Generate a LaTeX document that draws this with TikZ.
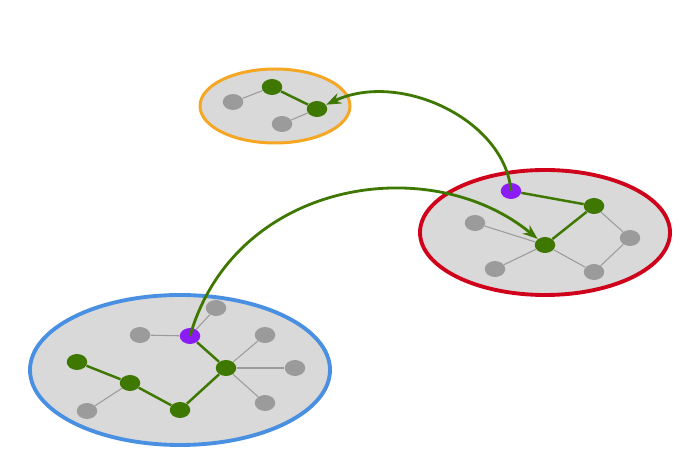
\documentclass[tikz,border=0pt]{standalone}
\usepackage{xcolor}
\definecolor{colGreen}{HTML}{3F7800}
\definecolor{colGray}{HTML}{9B9B9B}
\definecolor{colPurple}{HTML}{8B1CF5}
\definecolor{colOrange}{HTML}{F5A623}
\definecolor{colRed}{HTML}{D0021B}
\definecolor{colBlue}{HTML}{4A90E2}
\definecolor{colFill}{HTML}{D9D9D9}
\usepackage{tikz}
\usetikzlibrary{arrows.meta, shapes.geometric}
\tikzset{
    cluster/.style={
        draw=#1, fill=colFill, line width=2.2pt
    },
    vtx/.style={
        ellipse, fill=#1, inner sep=0pt,
        minimum width=0.41cm, minimum height=0.32cm
    },
    vtx/.default=colGray,
    grayedge/.style={colGray, line width=0.6pt},
    greenedge/.style={colGreen, line width=1.4pt},
    jump/.style={-{Stealth[length=3mm, width=2.2mm]}, colGreen, line width=1.6pt},
}

\begin{document}
\begin{tikzpicture}
    \useasboundingbox (0,0) rectangle (14,9.5);
    % clusters
    \draw[cluster=colOrange, line width=1.7pt] (5.5,7.38) ellipse [x radius=1.5cm, y radius=0.74cm];
    \draw[cluster=colRed] (10.9,4.85) ellipse [x radius=2.5cm, y radius=1.25cm];
    \draw[cluster=colBlue] (3.6,2.1) ellipse [x radius=3cm, y radius=1.5cm];

    % top graph
    \node[vtx] (o1) at (4.66,7.46) {};
    \node[vtx=colGreen] (o2) at (5.44,7.76) {};
    \node[vtx=colGreen] (o3) at (6.34,7.32) {};
    \node[vtx] (o4) at (5.64,7.02) {};
    \draw[grayedge] (o1) -- (o2);
    \draw[greenedge] (o2) -- (o3);
    \draw[grayedge] (o3) -- (o4);

    % right graph
    \node[vtx=colPurple] (r1) at (10.22,5.68) {};
    \node[vtx=colGreen] (r2) at (11.88,5.38) {};
    \node[vtx] (r3) at (9.5,5.04) {};
    \node[vtx=colGreen] (r4) at (10.9,4.6) {};
    \node[vtx] (r5) at (12.6,4.74) {};
    \node[vtx] (r6) at (9.9,4.12) {};
    \node[vtx] (r7) at (11.88,4.06) {};
    \draw[greenedge] (r1) -- (r2);
    \draw[greenedge] (r2) -- (r4);
    \draw[grayedge] (r2) -- (r5);
    \draw[grayedge] (r3) -- (r4);
    \draw[grayedge] (r4) -- (r6);
    \draw[grayedge] (r4) -- (r7);
    \draw[grayedge] (r5) -- (r7);

    % bottom graph
    \node[vtx] (b1) at (4.32,3.34) {};
    \node[vtx] (b2) at (2.8,2.8) {};
    \node[vtx=colPurple] (b3) at (3.8,2.78) {};
    \node[vtx] (b4) at (5.3,2.8) {};
    \node[vtx=colGreen] (b5) at (1.54,2.26) {};
    \node[vtx=colGreen] (b6) at (2.6,1.84) {};
    \node[vtx=colGreen] (b7) at (4.52,2.14) {};
    \node[vtx] (b8) at (5.9,2.14) {};
    \node[vtx] (b9) at (1.74,1.28) {};
    \node[vtx=colGreen] (b10) at (3.6,1.3) {};
    \node[vtx] (b11) at (5.3,1.44) {};
    \draw[grayedge] (b2) -- (b3);
    \draw[grayedge] (b3) -- (b1);
    \draw[greenedge] (b3) -- (b7);
    \draw[grayedge] (b7) -- (b4);
    \draw[grayedge] (b7) -- (b8);
    \draw[grayedge] (b7) -- (b11);
    \draw[greenedge] (b7) -- (b10);
    \draw[greenedge] (b10) -- (b6);
    \draw[greenedge] (b6) -- (b5);
    \draw[grayedge] (b6) -- (b9);

    % cross links
    \draw[jump] (r1.center) .. controls (10.1,7.1) and (8.0,8.1) .. (o3);
    \draw[jump] (b3.center) .. controls (4.7,5.9) and (8.6,6.5) .. (r4);
\end{tikzpicture}
\end{document}
